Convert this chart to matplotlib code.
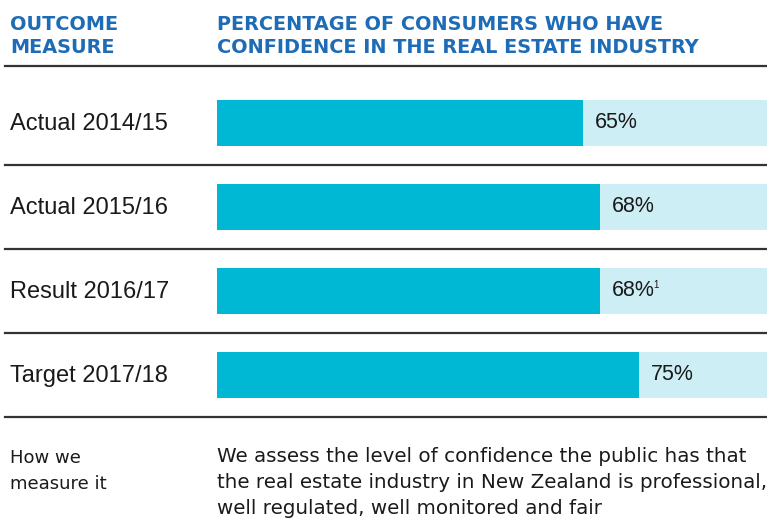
import matplotlib.pyplot as plt
from matplotlib.lines import Line2D

# Data
categories = ["Actual 2014/15", "Actual 2015/16", "Result 2016/17", "Target 2017/18"]
values = [65, 68, 68, 75]
value_labels = ["65%", "68%", "68%", "75%"]
footnotes = ["", "", "1", ""]

header_left = "OUTCOME\nMEASURE"
header_right = "PERCENTAGE OF CONSUMERS WHO HAVE\nCONFIDENCE IN THE REAL ESTATE INDUSTRY"
footer_left = "How we\nmeasure it"
footer_right = ("We assess the level of confidence the public has that\n"
                "the real estate industry in New Zealand is professional,\n"
                "well regulated, well monitored and fair")

W, H = 767, 519
bar_color = "#00b8d3"
bg_color = "#cdeef5"
head_color = "#1f6cb6"
line_color = "#333333"
text_color = "#1a1a1a"

fig = plt.figure(figsize=(W / 100, H / 100), dpi=100)

# bar axes: x from 217px to right edge, rows spaced 84px starting at 81px
ax = fig.add_axes([217 / W, 1 - 417 / H, 1 - 217 / W, 336 / H])
xmax = (W - 217) / 563 * 100
ypos = list(range(len(categories)))
ax.barh(ypos, [xmax] * len(ypos), height=46 / 84, color=bg_color)
ax.barh(ypos, values, height=46 / 84, color=bar_color)
ax.set_xlim(0, xmax)
ax.set_ylim(len(categories) - 0.5, -0.5)
ax.axis("off")

for y, v, lab, fn in zip(ypos, values, value_labels, footnotes):
    t = ax.text(v + 12 / 5.63, y, lab, va="center", ha="left",
                fontsize=15.5, color=text_color, family="Liberation Sans")
    if fn:
        ax.annotate(fn, xy=(0.97, 0.8), xycoords=t, fontsize=7, color=text_color,
                    va="center", ha="left", family="Liberation Sans")

# row labels
for i, cat in enumerate(categories):
    fig.text(10 / W, 1 - (124 + 84 * i) / H, cat, va="center", ha="left",
             fontsize=17, color=text_color, family="Liberation Sans")

# separator lines
for ypx in [66, 165, 249, 333, 417]:
    fig.add_artist(Line2D([5 / W, 1], [1 - ypx / H, 1 - ypx / H],
                          color=line_color, lw=1.6, transform=fig.transFigure))

# headers
for xpx, txt in [(10, header_left), (217, header_right)]:
    fig.text(xpx / W, 1 - 36 / H, txt, va="center", ha="left",
             fontsize=13.9, fontweight="bold", color=head_color,
             family="DejaVu Sans", linespacing=1.32)

# footer
fig.text(10 / W, 1 - 449 / H, footer_left, va="top", ha="left",
         fontsize=13, color=text_color, family="DejaVu Sans", linespacing=1.6)
fig.text(217 / W, 1 - 447 / H, footer_right, va="top", ha="left",
         fontsize=14.3, color=text_color, family="DejaVu Sans", linespacing=1.47)

fig.savefig("out.png", dpi=100)
